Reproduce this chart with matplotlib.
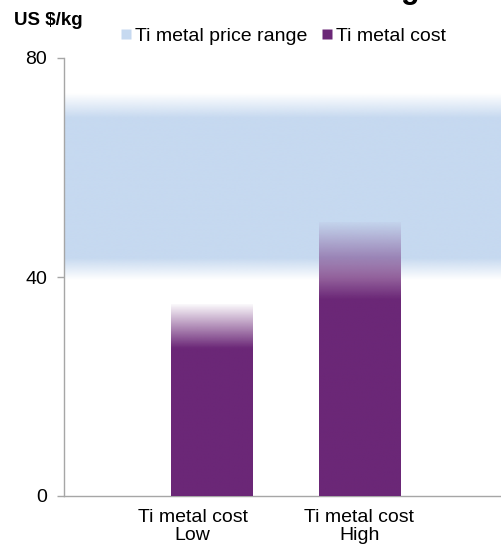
import numpy as np
import matplotlib
matplotlib.use("Agg")
import matplotlib.pyplot as plt
from matplotlib.lines import Line2D
from matplotlib.colors import to_rgb
from matplotlib.transforms import ScaledTranslation

# ---- data ----
categories = ["Ti metal cost\nLow", "Ti metal cost\nHigh"]
cost_top = [35, 50]          # top of the faded bar
cost_solid = [27, 36]        # where the fade starts
price_low = 40.0             # price range (outer, faded edge)
price_low_solid = 43.5
price_high_solid = 69.0
price_high = 73.5
yticks = [0, 40, 80]

purple = "#6B2777"
band_blue = "#C6D9F0"

plt.rcParams['font.family'] = ['Liberation Sans', 'DejaVu Sans']

fig = plt.figure(figsize=(5.01, 5.46), dpi=100)
W, H = 501, 546
ax = fig.add_axes([64 / W, 50 / H, 437 / W, 438 / H])

x = np.arange(1, len(categories) + 1)
xlim = (0, 2.96)
ax.set_xlim(*xlim)
ax.set_ylim(0, 80)

# price band gradient
ys = np.linspace(price_low - 0.5, price_high, 400)
alpha = np.interp(ys, [price_low - 0.5, price_low_solid, price_high_solid, price_high], [0, 1, 1, 0])
img = np.zeros((len(ys), 1, 4))
img[:, 0, :3] = to_rgb(band_blue)
img[:, 0, 3] = alpha
ax.imshow(img, extent=[xlim[0], xlim[1], ys[0], ys[-1]], origin='lower',
          aspect='auto', interpolation='bilinear', zorder=1)

# bars with fading top
width = 0.55
bars = ax.bar(x, cost_top, width, color='none', edgecolor='none', zorder=2)
for b, top, solid in zip(bars, cost_top, cost_solid):
    yy = np.linspace(0, top, 400)
    a = np.interp(yy, [0, solid, top], [1, 1, 0.03])
    im = np.zeros((len(yy), 1, 4))
    im[:, 0, :3] = to_rgb(purple)
    im[:, 0, 3] = a
    bx = b.get_x()
    g = ax.imshow(im, extent=[bx, bx + b.get_width(), 0, top], origin='lower',
                  aspect='auto', interpolation='bilinear', zorder=3)
    g.set_clip_path(b)

ax.set_xlim(*xlim)
ax.set_ylim(0, 80)

# axes styling
for s in ['top', 'right']:
    ax.spines[s].set_visible(False)
for s in ['left', 'bottom']:
    ax.spines[s].set_color('#A6A6A6')
    ax.spines[s].set_linewidth(1.0)
ax.set_yticks(yticks)
ax.set_xticks(x)
ax.set_xticklabels(categories, fontsize=14, linespacing=1.15)
ax.tick_params(axis='x', length=0, pad=9)
ax.tick_params(axis='y', length=5, width=1.0, color='#A6A6A6', pad=7, labelsize=14)
# the first category label sits a little left of its bar in the reference
lbl0 = ax.get_xticklabels()[0]
lbl0.set_transform(lbl0.get_transform() + ScaledTranslation(-19 / 100, 0, fig.dpi_scale_trans))

# unit label
fig.text(14 / W, 1 - 12 / H, "US $/kg", fontsize=13.5, fontweight='bold',
         ha='left', va='top')
# cut-off title remnant
fig.text(410 / W, 1 + 2 / H, "g", fontsize=22, fontweight='bold',
         ha='center', va='baseline')

handles = [Line2D([], [], marker='s', linestyle='none', markersize=7,
                  markerfacecolor=band_blue, markeredgecolor='none'),
           Line2D([], [], marker='s', linestyle='none', markersize=7,
                  markerfacecolor=purple, markeredgecolor='none')]
fig.legend(handles, ["Ti metal price range", "Ti metal cost"],
           loc='center', bbox_to_anchor=(283 / W, 1 - 36 / H), ncol=2,
           frameon=False, fontsize=14, handlelength=0.6, handletextpad=0.15,
           columnspacing=0.7, borderaxespad=0)

fig.savefig("out.png", dpi=100)
